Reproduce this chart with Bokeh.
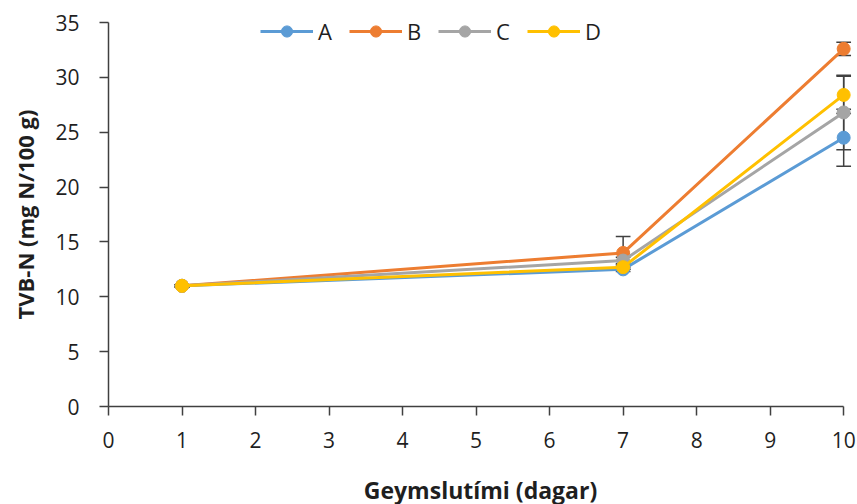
from bokeh.plotting import figure
from bokeh.models import Legend, LegendItem, FixedTicker, Range1d
from bokeh.embed import file_html
from bokeh.resources import INLINE

days = [1, 7, 10]
series_names = ["A", "B", "C", "D"]
A = [11.0, 12.5, 24.5]
B = [11.0, 14.0, 32.6]
C = [11.0, 13.3, 26.8]
D = [11.0, 12.7, 28.4]
A_err = [0.1, 0.2, 2.6]
B_err = [0.1, 1.5, 0.6]
C_err = [0.1, 0.3, 3.4]
D_err = [0.1, 0.2, 1.7]
colors = ["#5B9BD5", "#ED7D31", "#A5A5A5", "#FFC000"]
x_ticks = list(range(0, 11))
y_ticks = list(range(0, 36, 5))

FONT = "Open Sans"
TEXT = "#1f1f1f"

p = figure(frame_width=744, frame_height=384, output_backend="svg",
           toolbar_location=None, x_range=Range1d(0, 10.12), y_range=Range1d(0, 35),
           min_border_left=108, min_border_right=5, min_border_top=22, min_border_bottom=98)
p.outline_line_color = None
p.grid.visible = False
p.background_fill_color = "white"

for ax in (p.xaxis[0], p.yaxis[0]):
    ax.axis_line_color = "#404040"
    ax.axis_line_width = 1.5
    ax.major_tick_line_color = "#404040"
    ax.major_tick_line_width = 1.5
    ax.major_tick_out = 9
    ax.major_tick_in = 0
    ax.minor_tick_line_color = None
    ax.major_label_text_font = FONT
    ax.major_label_text_font_size = "21px"
    ax.major_label_text_color = TEXT
    ax.axis_label_text_font = FONT
    ax.axis_label_text_font_style = "bold"
    ax.axis_label_text_color = TEXT

p.xaxis.axis_label_text_font_size = "23px"
p.yaxis.axis_label_text_font_size = "22px"
p.xaxis.ticker = FixedTicker(ticks=x_ticks)
p.xaxis.bounds = (0, 10)
p.yaxis.ticker = FixedTicker(ticks=y_ticks)
p.xaxis.axis_label = "Geymslutími (dagar)"
p.yaxis.axis_label = "TVB-N (mg N/100 g)"
p.xaxis.major_label_standoff = 16
p.yaxis.major_label_standoff = 20
p.xaxis.axis_label_standoff = 23
p.yaxis.axis_label_standoff = 12

data = [A, B, C, D]
errs = [A_err, B_err, C_err, D_err]
cap = 0.1
for vals, er in zip(data, errs):
    lo = [v - e for v, e in zip(vals, er)]
    hi = [v + e for v, e in zip(vals, er)]
    p.segment(x0=days, x1=days, y0=lo, y1=hi, line_color="#404040", line_width=1.5)
    p.segment(x0=[d - cap for d in days], x1=[d + cap for d in days], y0=hi, y1=hi,
              line_color="#404040", line_width=1.5)
    p.segment(x0=[d - cap for d in days], x1=[d + cap for d in days], y0=lo, y1=lo,
              line_color="#404040", line_width=1.5)

items = []
for name, vals, col in zip(series_names, data, colors):
    l = p.line(days, vals, line_color=col, line_width=3)
    s = p.scatter(days, vals, marker="circle", size=13, fill_color=col, line_color=col)
    items.append(LegendItem(label=name, renderers=[l, s]))

legend = Legend(items=items, orientation="horizontal", location=(152, 360),
                glyph_width=53, glyph_height=28, label_standoff=5, spacing=7,
                padding=0, margin=0, border_line_color=None, background_fill_alpha=0,
                label_height=28, label_width=24,
                label_text_font=FONT, label_text_font_size="22px", label_text_color=TEXT)
p.add_layout(legend, "center")

open("out.html", "w").write(file_html(p, INLINE))
